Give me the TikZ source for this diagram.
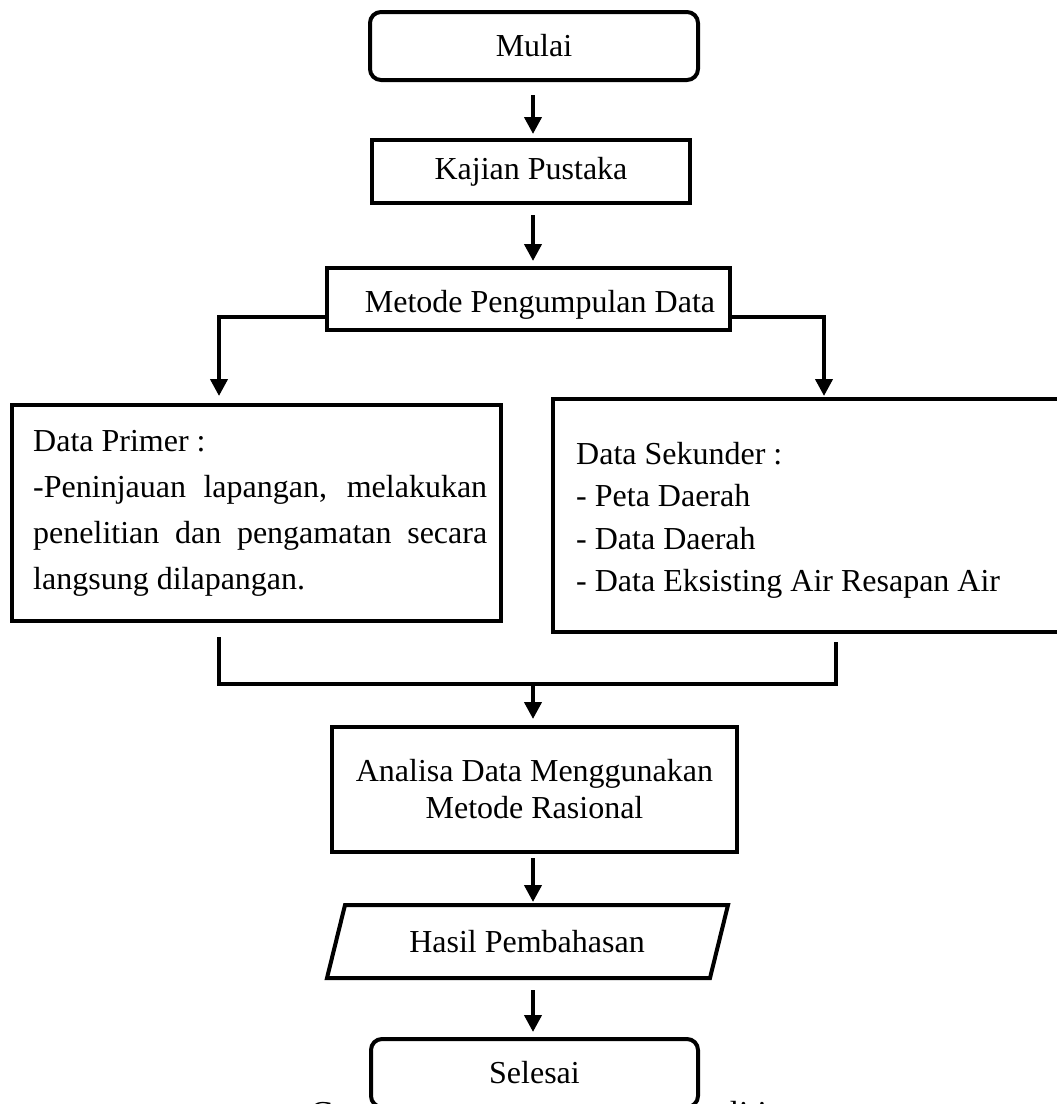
\documentclass[tikz,border=0pt]{standalone}
\usepackage{fontspec}
\setmainfont{Liberation Serif}
\usetikzlibrary{arrows.meta}
\begin{document}
\begin{tikzpicture}[x=1pt,y=-1pt,
  font=\fontsize{32pt}{44pt}\selectfont,
  box/.style={draw=black, line width=4pt, fill=white, inner sep=0pt},
  roundbox/.style={box, rounded corners=11pt},
  txt/.style={inner sep=0pt},
  arr/.style={line width=4pt, -{Triangle[length=17pt,width=17pt]}},
  conn/.style={line width=4pt}]
\useasboundingbox (0,0) rectangle (1057,1104);

% caption partly hidden behind the end box
\node[txt, anchor=base west, font=\fontsize{33.5pt}{40pt}\selectfont] (caption) at (310,1124) {Gambar 3.1 Diagram Alir Penelitian};

\coordinate (axis) at (533,0);

% boxes
\node[roundbox, minimum width=328pt, minimum height=68pt] (mulai) at (534,46) {Mulai};
\node[box, minimum width=318pt, minimum height=63pt] (kajian) at (531,171.5) {Kajian Pustaka};
\node[box, minimum width=403pt, minimum height=62pt] (metode) at (528.5,299) {};
\node[txt] (metodeT) at (540,305) {Metode Pengumpulan Data};

\node[box, minimum width=489pt, minimum height=216pt] (primer) at (256.5,513) {};
\node[txt, anchor=north west, align=left, font=\fontsize{32pt}{46pt}\selectfont] (primerT) at (33,430)
  {Data Primer :\\
   \makebox[454pt][s]{-Peninjauan lapangan, melakukan}\\
   \makebox[454pt][s]{penelitian dan pengamatan secara}\\
   langsung dilapangan.};

\node[box, minimum width=522pt, minimum height=233pt] (sekunder) at (814,515.5) {};
\node[txt, anchor=north west, align=left, font=\fontsize{32pt}{42.5pt}\selectfont] (sekunderT) at (576,442)
  {Data Sekunder :\\
   - Peta Daerah\\
   - Data Daerah\\
   - Data Eksisting Air Resapan Air};

\node[box, minimum width=405pt, minimum height=125pt, align=center,
      font=\fontsize{32pt}{37pt}\selectfont] (analisa) at (534.5,789.5)
  {Analisa Data Menggunakan\\Metode Rasional};

% parallelogram
\draw[line width=4pt, fill=white, line join=miter] (327,978) -- (345,905) -- (728,905) -- (710,978) -- cycle;
\node[txt] (hasil) at (527,941.5) {Hasil Pembahasan};
\coordinate (hasilN) at (533,905);
\coordinate (hasilS) at (533,978);

\node[roundbox, minimum width=327pt, minimum height=68pt] (selesai) at (534.5,1073) {};
\node[txt] (selesaiT) at (534.5,1073) {Selesai};

\coordinate (join) at (533,682);

% connectors
\draw[arr] ([yshift=-13pt]mulai.south -| axis) -- ([yshift=4pt]kajian.north -| axis);
\draw[arr] ([yshift=-10pt]kajian.south -| axis) -- ([yshift=5pt]metode.north -| axis);
\draw[arr] ([yshift=-18pt]metode.west) -| ([xshift=-37.5pt,yshift=7pt]primer.north);
\draw[arr] ([yshift=-18pt]metode.east) -| ([xshift=10pt,yshift=1pt]sekunder.north);
\draw[conn, line join=miter] ([xshift=-37.5pt,yshift=-14pt]primer.south)
   |- ([xshift=22pt,yshift=-50pt]sekunder.south) -- ([xshift=22pt,yshift=-8pt]sekunder.south);
\draw[arr] ([yshift=-3pt]join) -- ([yshift=6pt]analisa.north -| join);
\draw[arr] ([yshift=-4pt]analisa.south -| join) -- ([yshift=3pt]hasilN);
\draw[arr] ([yshift=-12pt]hasilS) -- ([yshift=5pt]selesai.north -| hasilS);
\end{tikzpicture}
\end{document}
